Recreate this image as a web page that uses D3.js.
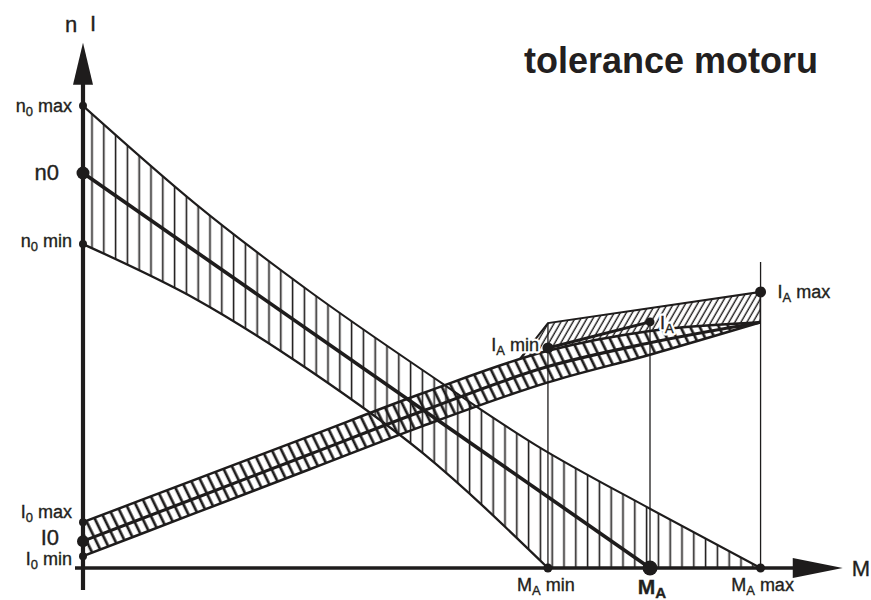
<!DOCTYPE html>
<html>
<head>
<meta charset="utf-8">
<script src="https://cdn.jsdelivr.net/npm/d3@7"></script>
<style>
  body { margin: 0; background: #fff; }
  svg { display: block; }
  text { font-family: "Liberation Sans", Arial, Helvetica, sans-serif; fill: #231f20; }
  .lbl { stroke: #231f20; stroke-width: 0.35px; }
  .halo { fill: #fff; stroke: #fff; stroke-width: 5px; stroke-linejoin: round; }
</style>
</head>
<body>
<svg id="chart" width="871" height="600"></svg>
<script>
// Torque M and speed n / current I, in % of the nominal values
const MA_MIN = 82, MA_NOM = 100, MA_MAX = 119.5;
const axisEndM = 134, axisEndV = 133;

// speed tolerance band
const speedMaxM = [0, 20, 40, 60, 80, 100, 119.5];
const speedMax  = [117, 92, 70, 50, 31, 15, 0];
const speedNomM = [0, 100];
const speedNom  = [100, 0];
const speedMinM = [0, 20, 40, 60, 82];
const speedMin  = [82, 68, 50, 29, 0];

// current tolerance band
const currentM   = [0, 20, 40, 60, 82, 100, 119.5];
const currentMax = [11.6, 22.5, 33.4, 44.3, 55, 60, 62.2];
const currentNom = [6.8, 17.8, 28.8, 39.8, 51, 57, 62.2];
const currentMin = [3, 14, 25, 36, 47, 54, 62.2];

// stall currents at MA min / MA / MA max
const stallM = [82, 100, 119.5];
const stallI = [55.7, 62.3, 69.9];
// outline of the stall-current zone
const stallZoneM = [70, 82, 119.5, 119.5, 70];
const stallZoneV = [40, 62, 69.9, 40, 40];

// tick labels
const speedTickValues = [117, 100, 82];
const speedTickLabels = [["n", "0", " max"], ["n0", "", ""], ["n", "0", " min"]];
const currentTickValues = [11.6, 6.8, 3];
const currentTickLabels = [["I", "0", " max"], ["I0", "", ""], ["I", "0", " min"]];
const torqueTickValues = [MA_MIN, MA_NOM, MA_MAX];
const torqueTickLabels = [["M", "A", " min"], ["M", "A", ""], ["M", "A", " max"]];
const stallLabels = [["I", "A", " min"], ["I", "A", ""], ["I", "A", " max"]];
const title = "tolerance motoru";

const svg = d3.select("#chart");
const x = d3.scaleLinear().domain([0, 100]).range([83, 650]);
const y = d3.scaleLinear().domain([0, 100]).range([568, 173]);
const ink = "#1e1c1c";
const zip = (a, b) => a.map((v, i) => [v, b[i]]);

const defs = svg.append("defs");
// vertical hatching of the speed band
const pv = defs.append("pattern").attr("id", "hv").attr("patternUnits", "userSpaceOnUse")
  .attr("width", 11.8).attr("height", 10);
pv.append("line").attr("x1", 9.4).attr("x2", 9.4).attr("y1", -1).attr("y2", 11)
  .attr("stroke", ink).attr("stroke-width", 1.6);
// coarse slanted hatching of the current band
const pc = defs.append("pattern").attr("id", "hc").attr("patternUnits", "userSpaceOnUse")
  .attr("width", 8.6).attr("height", 10).attr("patternTransform", "rotate(-26)");
pc.append("line").attr("x1", 4).attr("x2", 4).attr("y1", -1).attr("y2", 11)
  .attr("stroke", ink).attr("stroke-width", 2.7);
// fine slanted hatching of the stall-current zone
const pf = defs.append("pattern").attr("id", "hf").attr("patternUnits", "userSpaceOnUse")
  .attr("width", 5.2).attr("height", 10).attr("patternTransform", "rotate(30)");
pf.append("line").attr("x1", 2).attr("x2", 2).attr("y1", -1).attr("y2", 11)
  .attr("stroke", ink).attr("stroke-width", 1.4);

const curve = d3.curveMonotoneX;
const underArea = d3.area().x(d => x(d[0])).y0(y(0)).y1(d => y(d[1])).curve(curve);
const line = d3.line().x(d => x(d[0])).y(d => y(d[1])).curve(curve);

// mask: between n max and n min (or the M axis)
const mask = defs.append("mask").attr("id", "nmask");
mask.append("path").attr("d", underArea(zip(speedMaxM, speedMax))).attr("fill", "#fff");
mask.append("path").attr("d", underArea(zip(speedMinM, speedMin))).attr("fill", "#000");

svg.append("rect").attr("x", 0).attr("y", 0).attr("width", 871).attr("height", 600)
  .attr("fill", "url(#hv)").attr("mask", "url(#nmask)");

// current band hatching
const bandArea = d3.area().x(d => x(d.m)).y0(d => y(d.lo)).y1(d => y(d.hi)).curve(curve);
const bandData = currentM.map((m, i) => ({ m, lo: currentMin[i], hi: currentMax[i] }));
svg.append("path").attr("d", bandArea(bandData)).attr("fill", "url(#hc)");

// stall-current zone, kept above the I max line
const aboveArea = d3.area().x(d => x(d[0])).y0(d => y(d[1])).y1(0).curve(curve);
defs.append("clipPath").attr("id", "above").append("path")
  .attr("d", aboveArea(zip(currentM, currentMax)));
const zone = svg.append("g").attr("clip-path", "url(#above)");
const poly = d3.line().x(d => x(d[0])).y(d => y(d[1]));
zone.append("path").attr("d", poly(zip(stallZoneM, stallZoneV)) + "Z")
  .attr("fill", "url(#hf)").attr("stroke", ink).attr("stroke-width", 2);

// thin verticals from the torque ticks
const vTops = [62, stallI[1], 77.5];
svg.selectAll(".vt").data(torqueTickValues).join("line")
  .attr("x1", d => x(d)).attr("x2", d => x(d))
  .attr("y1", y(0)).attr("y2", (d, i) => y(vTops[i]))
  .attr("stroke", ink).attr("stroke-width", 1.3);

// characteristic lines
const lines = [
  [zip(speedMaxM, speedMax), 2.1],
  [zip(speedNomM, speedNom), 3.6],
  [zip(speedMinM, speedMin), 2.3],
  [zip(currentM, currentMax), 2.5],
  [zip(currentM, currentNom), 3.1],
  [zip(currentM, currentMin), 2.5]
];
lines.forEach(([pts, w]) => {
  svg.append("path").attr("d", line(pts)).attr("fill", "none")
    .attr("stroke", ink).attr("stroke-width", w).attr("stroke-linejoin", "round");
});
// IA min -> IA link
svg.append("path").attr("d", poly(zip(stallM.slice(0, 2), stallI.slice(0, 2))))
  .attr("stroke", ink).attr("stroke-width", 3).attr("fill", "none");

// axes with arrow heads
svg.append("line").attr("x1", x(0)).attr("x2", x(0)).attr("y1", 590).attr("y2", y(axisEndV) + 40)
  .attr("stroke", ink).attr("stroke-width", 4.2);
svg.append("path").attr("fill", ink)
  .attr("d", `M${x(0)},${y(axisEndV)} L${x(0) - 10},${y(axisEndV) + 42} L${x(0) + 10},${y(axisEndV) + 42} Z`);
svg.append("line").attr("x1", x(0) - 8).attr("x2", x(axisEndM) - 48).attr("y1", y(0)).attr("y2", y(0))
  .attr("stroke", ink).attr("stroke-width", 3.5);
svg.append("path").attr("fill", ink)
  .attr("d", `M${x(axisEndM)},${y(0)} L${x(axisEndM) - 50},${y(0) - 10} L${x(axisEndM) - 50},${y(0) + 10} Z`);

// dots
const dot = (cx, cy, r) => svg.append("circle").attr("cx", cx).attr("cy", cy).attr("r", r).attr("fill", ink);
const bigIdx = 1;
speedTickValues.forEach((v, i) => dot(x(0), y(v), i === bigIdx ? 6.5 : 4));
currentTickValues.forEach((v, i) => dot(x(0), y(v), i === bigIdx ? 6 : 4));
torqueTickValues.forEach((m, i) => dot(x(m), y(0), i === bigIdx ? 7.5 : 4.5));
stallM.forEach((m, i) => dot(x(m), y(stallI[i]), i === bigIdx ? 4.5 : 5.5));

// labels with subscripts; an optional white halo is drawn underneath
function writeLabel(cls, parts, px, py, size, anchor) {
  const t = svg.append("text").attr("class", cls).attr("x", px).attr("y", py).attr("font-size", size)
    .attr("text-anchor", anchor).attr("dominant-baseline", "central");
  t.append("tspan").text(parts[0]);
  if (parts[1]) t.append("tspan").attr("font-size", size * 0.72).attr("dy", size * 0.28).text(parts[1]);
  if (parts[2]) t.append("tspan").attr("dy", parts[1] ? -size * 0.28 : 0).text(parts[2]);
  return t;
}
function label(parts, px, py, size, anchor, halo) {
  if (halo) writeLabel("halo", parts, px, py, size, anchor);
  return writeLabel("lbl", parts, px, py, size, anchor);
}
const speedDy = [0, -1, -3];
speedTickValues.forEach((v, i) =>
  label(speedTickLabels[i], i === bigIdx ? 59 : 72, y(v) + speedDy[i], i === bigIdx ? 22 : 18, "end"));
const currentDy = [-10, -4, 3];
currentTickValues.forEach((v, i) =>
  label(currentTickLabels[i], i === bigIdx ? 59 : 72, y(v) + currentDy[i], i === bigIdx ? 22 : 18, "end"));
const torqueDx = [-2, 2, 2];
torqueTickValues.forEach((m, i) =>
  label(torqueTickLabels[i], x(m) + torqueDx[i], y(0) + (i === bigIdx ? 18 : 17), i === bigIdx ? 21 : 18, "middle")
    .attr("font-weight", i === bigIdx ? "bold" : "normal"));
label(stallLabels[0], x(stallM[0]) - 9, y(stallI[0]) - 3, 18, "end", true);
label(stallLabels[1], x(stallM[1]) + 10, y(stallI[1]) + 1, 18, "start", true);
label(stallLabels[2], x(stallM[2]) + 17, y(stallI[2]), 18, "start");

// axis titles
const axisTitle = (t, px, py) => svg.append("text").attr("class", "lbl").attr("x", px).attr("y", py)
  .attr("font-size", 22).attr("text-anchor", "middle").attr("dominant-baseline", "central").text(t);
axisTitle("n", 71, 24);
axisTitle("I", 93, 23);
axisTitle("M", 861, y(0));

svg.append("text").attr("x", 671).attr("y", 73).attr("font-size", 36).attr("font-weight", "bold")
  .attr("text-anchor", "middle").text(title);
</script>
</body>
</html>
